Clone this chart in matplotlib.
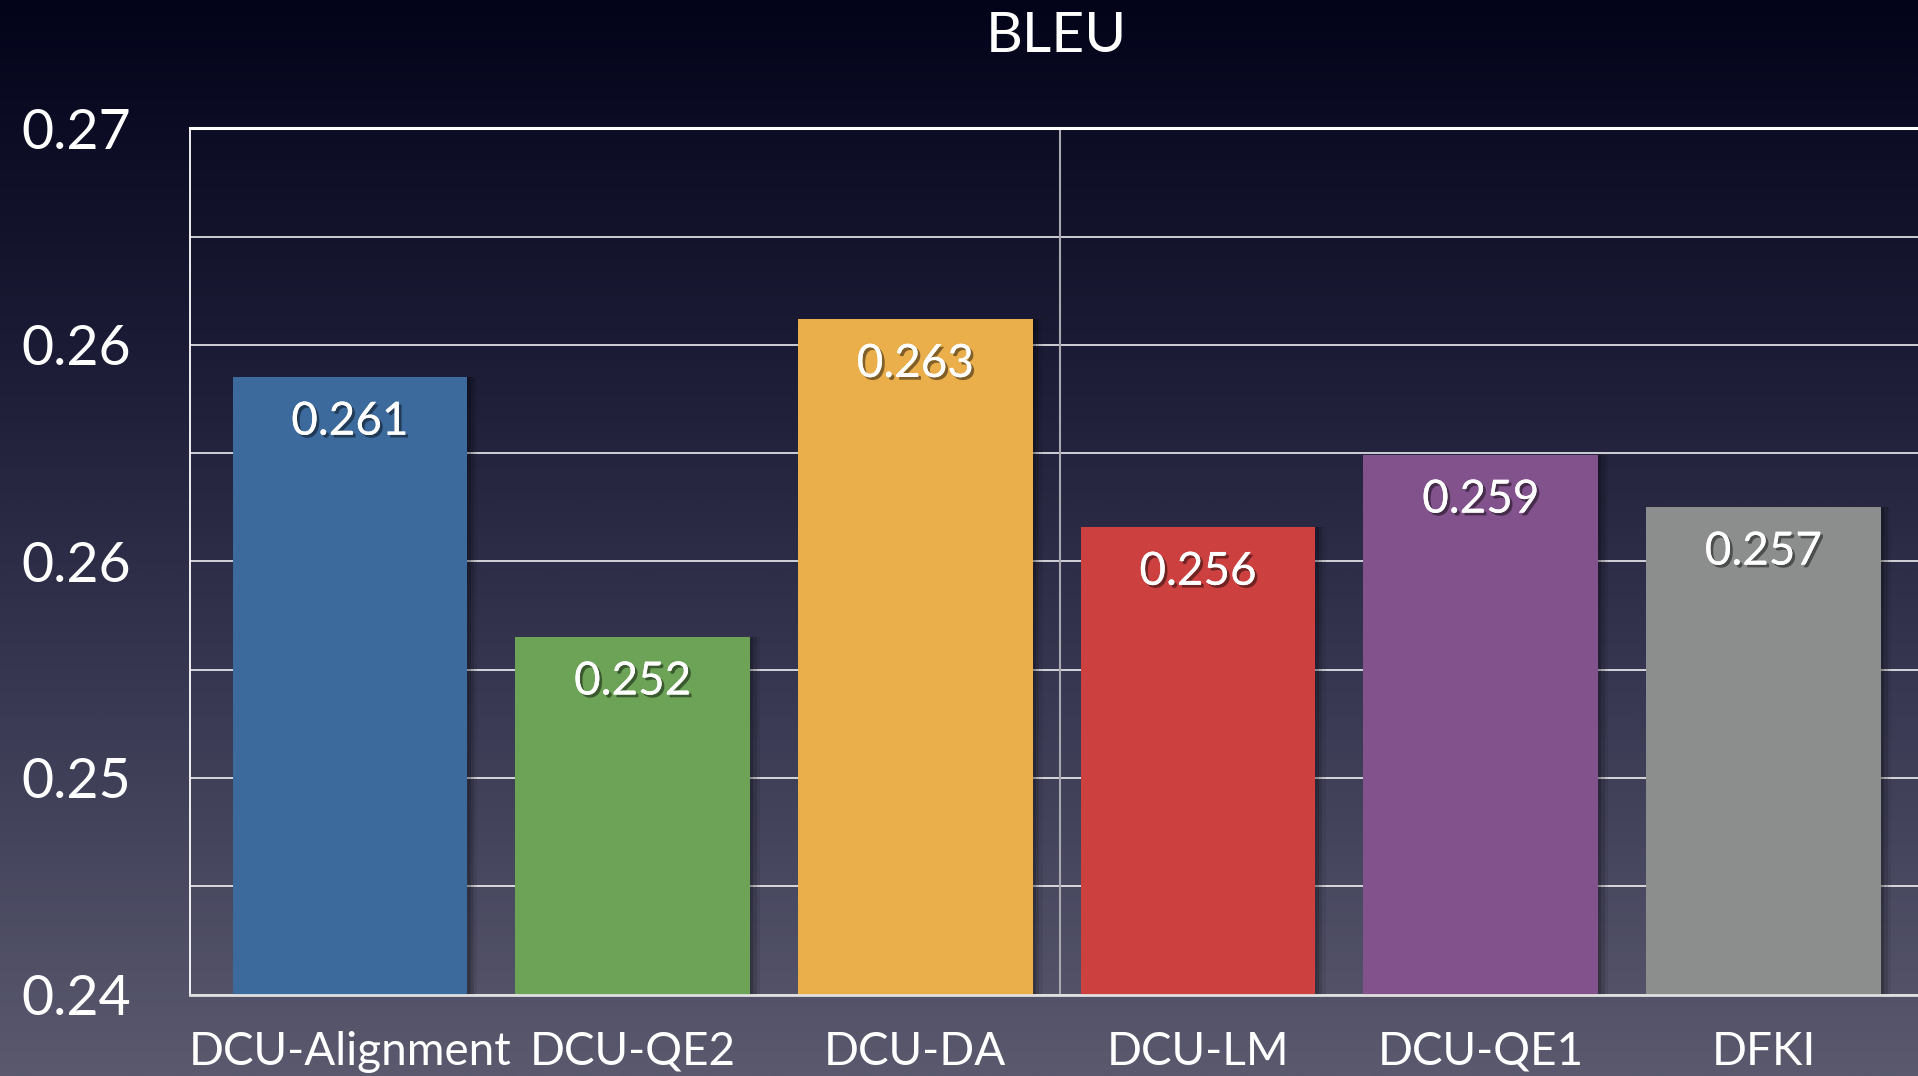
import numpy as np
import matplotlib
matplotlib.use("Agg")
import matplotlib.pyplot as plt
import matplotlib.patheffects as pe
from matplotlib.colors import LinearSegmentedColormap

# ---- data ----
categories = ["DCU-Alignment", "DCU-QE2", "DCU-DA", "DCU-LM", "DCU-QE1", "DFKI"]
bleu = [0.2614, 0.2524, 0.2634, 0.2562, 0.2587, 0.2569]
value_labels = ["0.261", "0.252", "0.263", "0.256", "0.259", "0.257"]
bar_colors = ["#3d6a9c", "#6ca357", "#eaae4b", "#cc4040", "#82528c", "#8c8d8d"]
ytick_values = [0.24, 0.2475, 0.255, 0.2625, 0.27]
ytick_labels = ["0.24", "0.25", "0.26", "0.26", "0.27"]
title = "BLEU"

FONT = ["Lato", "DejaVu Sans"]
plt.rcParams["font.family"] = FONT

W, H = 1918, 1076
fig = plt.figure(figsize=(W / 100, H / 100), dpi=100)

# background gradient
bg = fig.add_axes([0, 0, 1, 1], zorder=-10)
cmap = LinearSegmentedColormap.from_list("bg", ["#03031a", "#1c1c36", "#3a3a54", "#5a596e"])
grad = np.linspace(0, 1, 512).reshape(-1, 1)
bg.imshow(grad, aspect="auto", cmap=cmap, extent=[0, 1, 0, 1], origin="upper")
bg.set_axis_off()

left = 189.6 / W
bottom = 1 - 994.5 / H
top = 1 - 128.4 / H
ax = fig.add_axes([left, bottom, 1.003 - left, top - bottom])
ax.set_facecolor("none")

x = np.arange(len(categories))
width = 0.83
base = 0.24

# soft shadows
for off, a in [(0.012, 0.18), (0.024, 0.12), (0.036, 0.07)]:
    ax.bar(x + off, np.array(bleu) - base, width, bottom=base, color="black",
           alpha=a, zorder=2, linewidth=0)
ax.bar(x, np.array(bleu) - base, width, bottom=base, color=bar_colors, zorder=3, linewidth=0)

for xi, v, lab in zip(x, bleu, value_labels):
    ax.annotate(lab, (xi, v), xytext=(0, -45), textcoords="offset pixels",
                ha="center", va="center", color="white", fontsize=33, zorder=5,
                path_effects=[pe.withSimplePatchShadow(offset=(2, -2), shadow_rgbFace="black", alpha=0.45),
                              pe.Normal()])

ax.set_xlim(-0.567, 5.567)
ax.set_ylim(0.24, 0.27)
ax.set_yticks(ytick_values)
ax.set_yticklabels(ytick_labels)
ax.set_yticks(np.arange(0.24375, 0.27, 0.0075), minor=True)
ax.grid(True, axis="y", which="both", color="white", linewidth=1.1, zorder=1)
ax.set_axisbelow(True)
ax.axvline(2.51, color="#a8a8b0", linewidth=1.5, zorder=1)
ax.axhline(0.27, color="white", linewidth=2.2, zorder=1, clip_on=False)

ax.set_xticks(x)
ax.set_xticklabels(categories)
ax.tick_params(axis="x", length=0, pad=26, labelsize=33, colors="white")
ax.tick_params(axis="y", which="both", length=0, pad=42, labelsize=40, colors="white")

for s in ["top", "right"]:
    ax.spines[s].set_visible(False)
ax.spines["left"].set_color("white")
ax.spines["left"].set_linewidth(1.3)
ax.spines["bottom"].set_color("#e0e0e0")
ax.spines["bottom"].set_linewidth(2.0)
ax.spines["bottom"].set_zorder(4)

fig.text(1056 / W, 1 - 36.7 / H, title, ha="center", va="center", color="white", fontsize=41)

fig.savefig("out.png", dpi=100)
